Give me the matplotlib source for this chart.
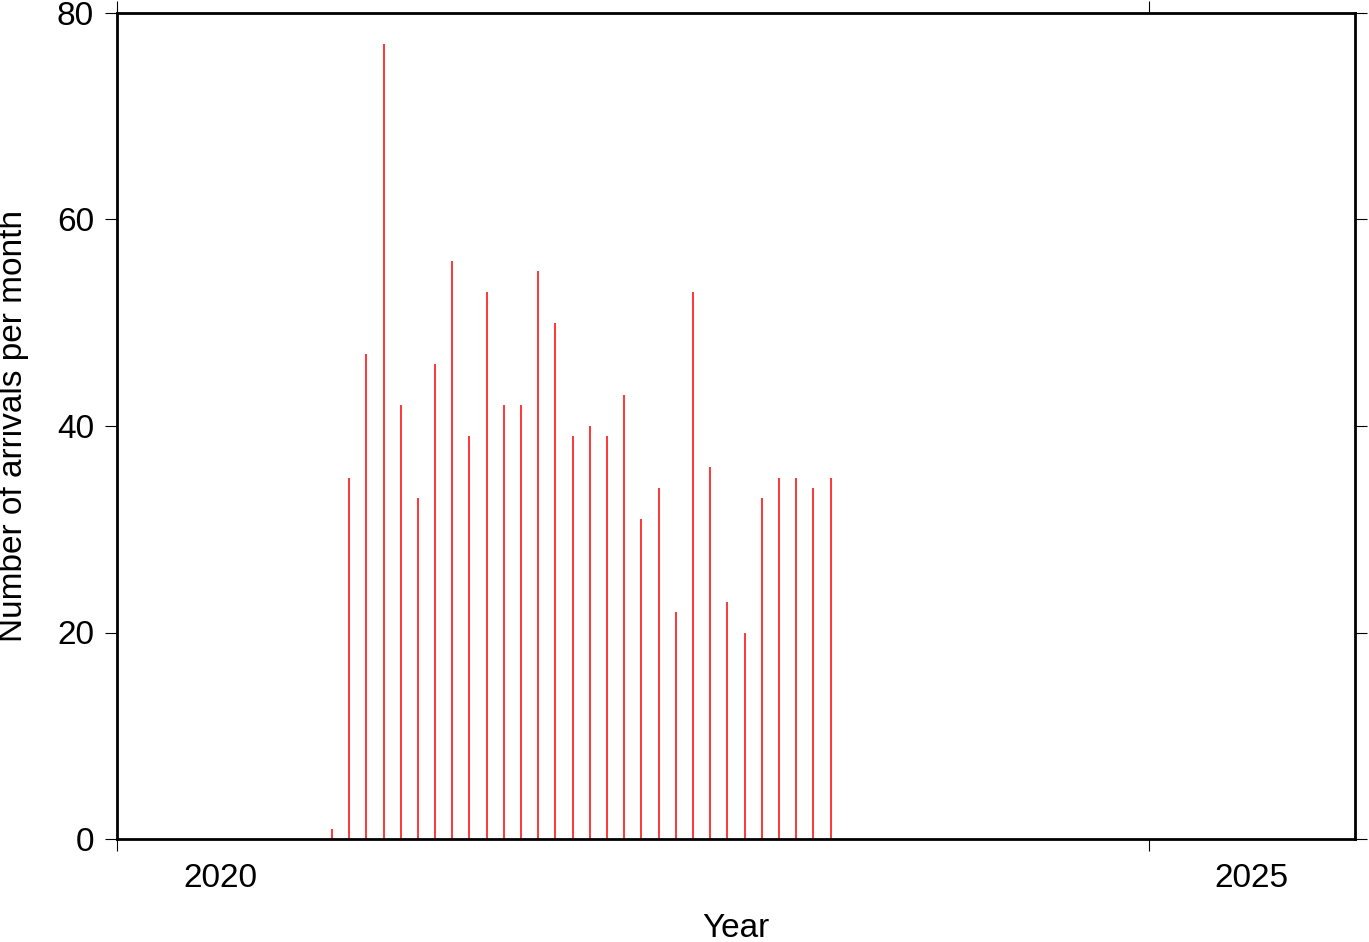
import matplotlib
matplotlib.use("Agg")
import matplotlib.pyplot as plt
import numpy as np

plt.rcParams['font.family'] = ['Liberation Sans', 'DejaVu Sans']

# Monthly arrivals, Jan 2021 .. Jun 2023
start_year = 2021
counts = [1, 35, 47, 77, 42, 33, 46, 56, 39, 53, 42, 42,
          55, 50, 39, 40, 39, 43, 31, 34, 22, 53, 36, 23,
          20, 33, 35, 35, 34, 35]
year_ticks = [2020, 2025]
year_labels = ["2020", "2025"]
y_ticks = [0, 20, 40, 60, 80]

months = np.arange(len(counts))
x = start_year + (months + 0.5) / 12.0

fig = plt.figure(figsize=(13.69, 9.42), dpi=100)
ax = fig.add_axes([117/1369, 1 - 839/942, (1355-117)/1369, (839-13)/942])
ax.vlines(x, 0, counts, colors='#ff0000', linewidth=1.1)

ax.set_xlim(2020, 2026)
ax.set_ylim(0, 80)
ax.set_xticks(year_ticks)
ax.set_xticklabels([])
ax.set_xticks([t + 0.5 for t in year_ticks], minor=True)
ax.set_xticklabels(year_labels, minor=True)
ax.set_yticks(y_ticks)

for s in ax.spines.values():
    s.set_linewidth(2)

FS = 24
ax.tick_params(axis='both', which='major', direction='out', length=8.6, width=0.8,
               top=True, right=True, labelsize=FS, pad=6)
ax.tick_params(axis='y', which='major', pad=8)
ax.tick_params(axis='x', which='minor', length=0, labelsize=FS, pad=17)

ax.set_xlabel("Year", fontsize=FS, labelpad=14)
ax.set_ylabel("Number of arrivals per month", fontsize=FS, labelpad=20)

fig.savefig("out.png", dpi=100)
